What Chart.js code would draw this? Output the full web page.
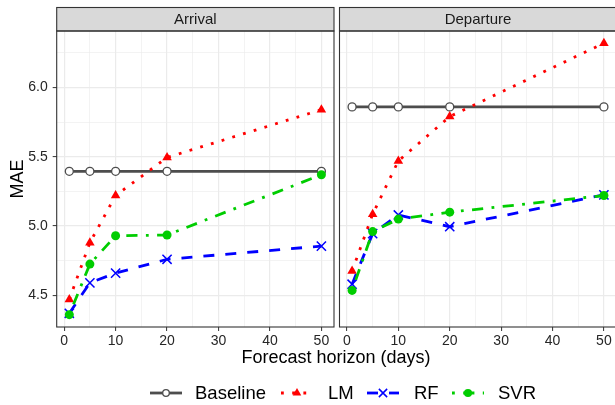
<!DOCTYPE html>
<html>
<head>
<meta charset="utf-8">
<script src="https://cdn.jsdelivr.net/npm/chart.js@4.4.1/dist/chart.umd.min.js"></script>
<style>
  body { margin:0; width:615px; height:405px; overflow:hidden; background:#fff; position:relative;
         font-family:"Liberation Sans", Arial, Helvetica, sans-serif; }
  #arrivalChart { position:absolute; left:0; top:0; }
  #departureChart { position:absolute; left:337px; top:0; }
  #xTitle { position:absolute; left:0; width:672px; top:346px; text-align:center; font-size:18px; color:#000; line-height:22px; }
  .key { position:absolute; top:383px; }
  .keyText { position:absolute; top:382px; font-size:18.5px; line-height:22px; color:#000; }
</style>
</head>
<body>
<canvas id="arrivalChart" width="337" height="405"></canvas>
<canvas id="departureChart" width="282" height="405"></canvas>
<div id="xTitle">Forecast horizon (days)</div>

<canvas class="key" id="keyBaseline" width="34" height="20" style="left:149px"></canvas>
<div class="keyText" style="left:195px">Baseline</div>
<canvas class="key" id="keyLM" width="34" height="20" style="left:280px"></canvas>
<div class="keyText" style="left:328px">LM</div>
<canvas class="key" id="keyRF" width="34" height="20" style="left:366px"></canvas>
<div class="keyText" style="left:414px">RF</div>
<canvas class="key" id="keySVR" width="34" height="20" style="left:451px"></canvas>
<div class="keyText" style="left:498px">SVR</div>

<script>
// forecast horizons (days) and MAE per model
var horizons = [1, 5, 10, 20, 50];
var models = ["Baseline", "LM", "RF", "SVR"];

var arrivalBaseline = [5.395, 5.395, 5.395, 5.395, 5.395];
var arrivalLM       = [4.47, 4.88, 5.22, 5.495, 5.84];
var arrivalRF       = [4.37, 4.59, 4.66, 4.76, 4.855];
var arrivalSVR      = [4.36, 4.725, 4.93, 4.935, 5.37];

var departureBaseline = [5.86, 5.86, 5.86, 5.86, 5.86];
var departureLM       = [4.675, 5.085, 5.47, 5.79, 6.32];
var departureRF       = [4.58, 4.945, 5.08, 4.995, 5.225];
var departureSVR      = [4.535, 4.96, 5.05, 5.10, 5.22];

var xTicks = [0, 5, 10, 15, 20, 25, 30, 35, 40, 45, 50];
var yTicks = [4.5, 4.75, 5.0, 5.25, 5.5, 5.75, 6.0, 6.25];

var FONT = '"Liberation Sans", Arial, Helvetica, sans-serif';

var styles = {
  Baseline: { color: '#4D4D4D', dash: [],                   point: 'circle',   radius: 4,   fill: '#ffffff', pbw: 1.3 },
  LM:       { color: '#FF0000', dash: [2.8, 8.4],           point: 'triangle', radius: 5.5, fill: '#FF0000', pbw: 0 },
  RF:       { color: '#0000FF', dash: [11, 11],             point: 'crossRot', radius: 6.5, fill: '#0000FF', pbw: 1.5 },
  SVR:      { color: '#00CD00', dash: [2.8, 8.4, 11.2, 8.4], point: 'circle',  radius: 4.5, fill: '#00CD00', pbw: 0 }
};

function toPoints(vals) {
  var pts = [];
  for (var i = 0; i < horizons.length; i++) {
    pts.push({ x: horizons[i], y: vals[i] });
  }
  return pts;
}

function isMajorX(v) { return v % 10 === 0; }
function isMajorY(v) { return Math.abs(v * 2 - Math.round(v * 2)) < 1e-6; }

var stripPlugin = {
  id: 'strip',
  afterDraw: function(chart, args, opts) {
    var a = chart.chartArea, ctx = chart.ctx;
    var h = 23.5;
    ctx.save();
    ctx.fillStyle = '#D9D9D9';
    ctx.fillRect(a.left, a.top - h, a.right - a.left, h);
    ctx.strokeStyle = '#333333';
    ctx.lineWidth = 1.1;
    ctx.strokeRect(a.left, a.top - h, a.right - a.left, h);
    ctx.strokeRect(a.left, a.top, a.right - a.left, a.bottom - a.top);
    ctx.fillStyle = '#1A1A1A';
    ctx.font = '15px ' + FONT;
    ctx.textAlign = 'center';
    ctx.textBaseline = 'middle';
    ctx.fillText(opts.text, (a.left + a.right) / 2, a.top - h / 2 + 0.5);
    ctx.restore();
  }
};

function makePanel(id, title, series, showY, padding) {
  var datasets = [];
  for (var i = 0; i < models.length; i++) {
    var s = styles[models[i]];
    datasets.push({
      label: models[i],
      data: toPoints(series[i]),
      borderColor: s.color,
      borderWidth: 2.8,
      borderDash: s.dash,
      borderCapStyle: 'butt',
      tension: 0,
      pointStyle: s.point,
      pointRadius: s.radius,
      pointBackgroundColor: s.fill,
      pointBorderColor: s.color,
      pointBorderWidth: s.pbw,
      order: models.length - i,
      clip: false
    });
  }

  var ctx = document.getElementById(id).getContext('2d');
  return new Chart(ctx, {
    type: 'line',
    data: { datasets: datasets },
    options: {
      responsive: false,
      animation: false,
      events: [],
      layout: { padding: padding, autoPadding: false },
      plugins: {
        legend: { display: false },
        tooltip: { enabled: false },
        strip: { text: title }
      },
      scales: {
        x: {
          type: 'linear',
          min: -1.45,
          max: 52.45,
          afterBuildTicks: function(scale) {
            scale.ticks = xTicks.map(function(v) { return { value: v }; });
          },
          afterFit: function(scale) {
            scale.height = 22;
            scale.paddingLeft = 0;
            scale.paddingRight = 0;
          },
          ticks: {
            autoSkip: false,
            maxRotation: 0,
            padding: 2,
            color: '#262626',
            font: { family: FONT, size: 14 },
            callback: function(v) { return isMajorX(v) ? String(v) : ''; }
          },
          grid: {
            color: '#EBEBEB',
            lineWidth: function(c) { return c.tick && isMajorX(c.tick.value) ? 1.2 : 0.6; },
            drawTicks: true,
            tickLength: 4,
            tickWidth: 1,
            tickColor: function(c) { return c.tick && isMajorX(c.tick.value) ? '#333333' : 'rgba(0,0,0,0)'; }
          },
          border: { display: false }
        },
        y: {
          type: 'linear',
          min: 4.271,
          max: 6.408,
          afterBuildTicks: function(scale) {
            scale.ticks = yTicks.map(function(v) { return { value: v }; });
          },
          afterFit: function(scale) {
            scale.width = showY ? 56.7 : 0;
            scale.paddingTop = 0;
            scale.paddingBottom = 0;
          },
          title: {
            display: showY,
            text: 'MAE',
            color: '#000',
            font: { family: FONT, size: 18 },
            padding: { top: 7, bottom: 0 }
          },
          ticks: {
            display: showY,
            autoSkip: false,
            padding: 5,
            color: '#262626',
            font: { family: FONT, size: 14 },
            callback: function(v) { return isMajorY(v) ? v.toFixed(1) : ''; }
          },
          grid: {
            color: '#EBEBEB',
            lineWidth: function(c) { return c.tick && isMajorY(c.tick.value) ? 1.2 : 0.6; },
            drawTicks: showY,
            tickLength: 4,
            tickWidth: 1,
            tickColor: function(c) { return c.tick && isMajorY(c.tick.value) ? '#333333' : 'rgba(0,0,0,0)'; }
          },
          border: { display: false }
        }
      }
    },
    plugins: [stripPlugin]
  });
}

var arrivalChart = makePanel('arrivalChart', 'Arrival',
  [arrivalBaseline, arrivalLM, arrivalRF, arrivalSVR], true,
  { left: 0, top: 31, right: 3, bottom: 56 });

var departureChart = makePanel('departureChart', 'Departure',
  [departureBaseline, departureLM, departureRF, departureSVR], false,
  { left: 2.5, top: 31, right: 2.5, bottom: 56 });

// legend keys: line segment with its dash pattern plus the marker
function drawKey(id, name) {
  var s = styles[name];
  var c = document.getElementById(id);
  var ctx = c.getContext('2d');
  ctx.strokeStyle = s.color;
  ctx.lineWidth = 2.8;
  ctx.lineCap = 'butt';
  ctx.setLineDash(s.dash);
  ctx.beginPath();
  ctx.moveTo(1, 10);
  ctx.lineTo(33, 10);
  ctx.stroke();
  ctx.setLineDash([]);
  ctx.fillStyle = s.fill;
  ctx.lineWidth = s.pbw;
  var r = name === 'Baseline' ? 3.3 : s.radius * 0.9;
  Chart.helpers.drawPoint(ctx, { pointStyle: s.point, radius: r, rotation: 0, borderWidth: s.pbw }, 17, 10);
}
drawKey('keyBaseline', 'Baseline');
drawKey('keyLM', 'LM');
drawKey('keyRF', 'RF');
drawKey('keySVR', 'SVR');
</script>
</body>
</html>
